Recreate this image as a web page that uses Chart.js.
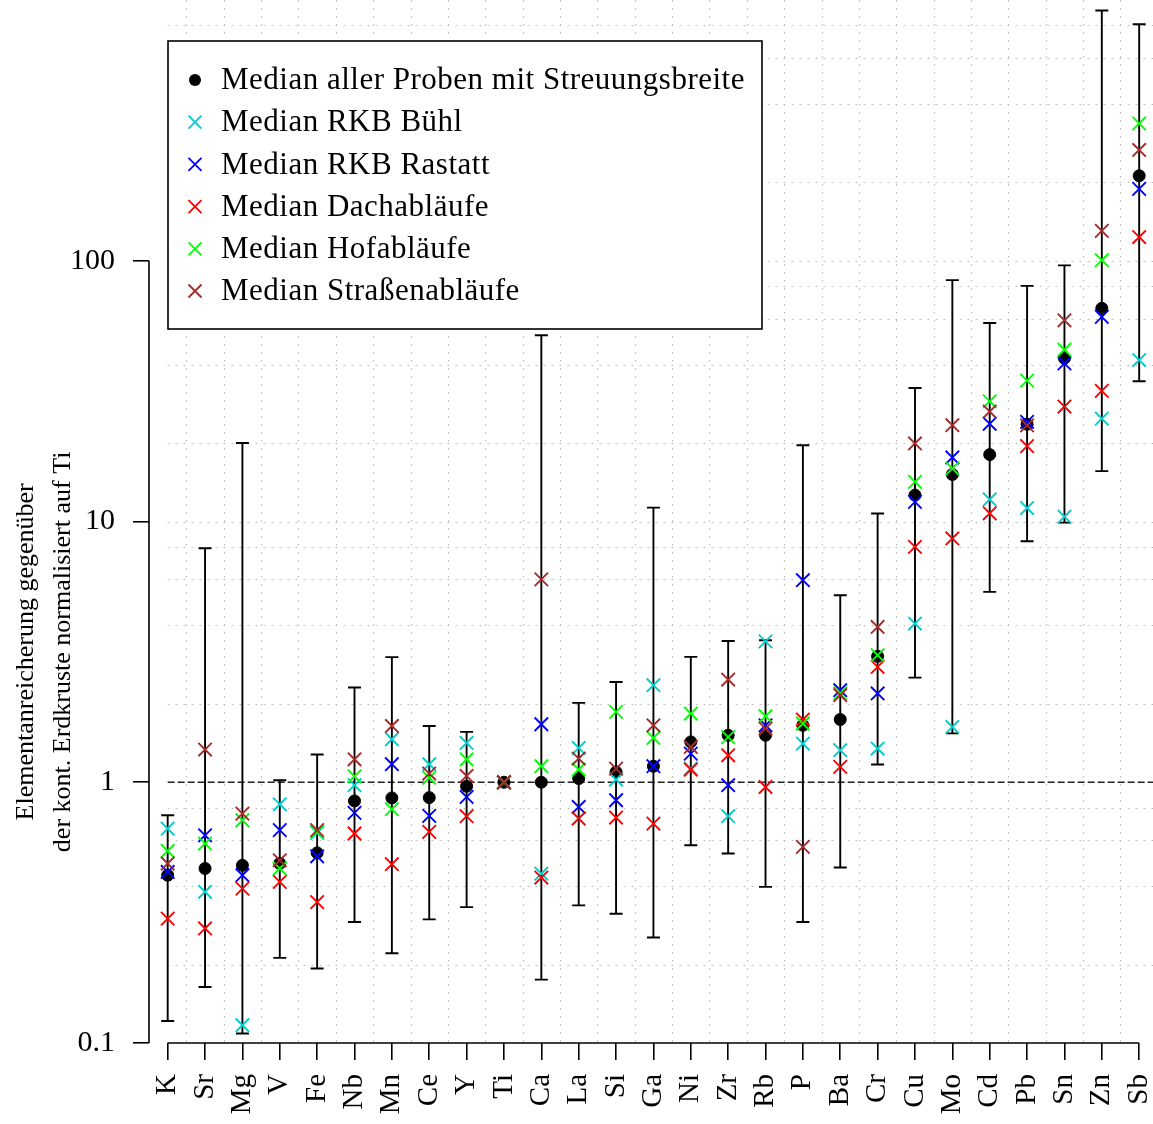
<!DOCTYPE html>
<html><head><meta charset="utf-8">
<script src="https://cdn.jsdelivr.net/npm/chart.js@4.4.1/dist/chart.umd.min.js"></script>
<style>html,body{margin:0;padding:0;background:#fff;}canvas{display:block;}</style>
</head><body>
<canvas id="c" width="1153" height="1124"></canvas>
<script>
// ---------------- data ----------------
const categories = ['K','Sr','Mg','V','Fe','Nb','Mn','Ce','Y','Ti','Ca','La','Si','Ga','Ni','Zr','Rb','P','Ba','Cr','Cu','Mo','Cd','Pb','Sn','Zn','Sb'];
const medianAll = [0.44,0.467,0.48,0.488,0.536,0.848,0.871,0.873,0.965,1.0,1.0,1.033,1.095,1.152,1.428,1.514,1.514,1.654,1.74,3.04,12.62,15.15,18.05,23.6,42.3,65.7,211.8];
const errLow  = [0.1215,0.164,0.1087,0.212,0.193,0.291,0.221,0.298,0.332,1.0,0.175,0.337,0.313,0.254,0.573,0.533,0.397,0.291,0.471,1.17,2.52,1.54,5.37,8.4,9.9,15.6,34.5];
const errHigh = [0.747,7.9,20.0,1.018,1.277,2.31,3.02,1.644,1.56,1.0,51.8,2.015,2.425,11.3,3.025,3.483,3.505,19.6,5.216,10.73,32.5,84.3,57.7,80.1,96.0,912,807.6];
const rkbBuehl   = [0.664,0.380,0.117,0.823,0.64,0.974,1.462,1.173,1.415,1.0,0.446,1.354,1.024,2.356,1.128,0.741,3.47,1.407,1.327,1.347,4.06,1.63,12.15,11.26,10.43,24.8,41.6];
const rkbRastatt = [0.453,0.626,0.440,0.655,0.520,0.763,1.173,0.743,0.878,1.0,1.669,0.804,0.853,1.152,1.288,0.974,1.654,5.955,2.254,2.19,11.89,17.6,23.7,24.1,40.4,60.9,188.7];
const dachablaeufe = [0.300,0.275,0.391,0.415,0.347,0.636,0.485,0.645,0.741,1.0,0.431,0.726,0.732,0.694,1.119,1.269,0.959,1.74,1.145,2.77,7.99,8.61,10.75,19.46,27.6,31.7,123.3];
const hofablaeufe  = [0.545,0.582,0.715,0.467,0.645,1.054,0.788,1.04,1.225,1.0,1.152,1.119,1.861,1.479,1.834,1.49,1.792,1.68,2.19,3.07,14.19,15.97,28.9,34.7,45.6,100.5,336.3];
const strassenablaeufe = [0.488,1.335,0.758,0.502,0.655,1.225,1.644,1.08,1.057,1.0,6.0,1.233,1.128,1.654,1.366,2.477,1.606,0.565,2.157,3.94,19.92,23.4,26.4,23.35,59.1,130.2,266];
const yTickValues = [0.1, 1, 10, 100];
const yTickLabels = ['0.1', '1', '10', '100'];
const yTitleLines = ['Elementanreicherung gegenüber', 'der kont. Erdkruste normalisiert auf Ti'];
const seriesLabels = ['Median aller Proben mit Streuungsbreite','Median RKB Bühl','Median RKB Rastatt','Median Dachabläufe','Median Hofabläufe','Median Straßenabläufe'];

// ---------------- chart ----------------
const FONT = '"Liberation Serif", "Times New Roman", serif';
const pts = arr => arr.map((v, i) => ({x: i + 1, y: v}));

function crossSet(label, data, color, order) {
  return {
    label, data: pts(data), order,
    pointStyle: 'crossRot', pointRadius: 9.5, pointHoverRadius: 9.5,
    pointBorderWidth: 1.9, pointBorderColor: color, pointBackgroundColor: color,
    borderColor: color, backgroundColor: color, showLine: false
  };
}

const datasets = [
  { label: seriesLabels[0], data: pts(medianAll), order: 6,
    pointStyle: 'circle', pointRadius: 6, pointHoverRadius: 6, pointBorderWidth: 1,
    pointBorderColor: '#000', pointBackgroundColor: '#000', borderColor: '#000', backgroundColor: '#000', showLine: false },
  crossSet(seriesLabels[1], rkbBuehl, '#00CDCD', 5),
  crossSet(seriesLabels[2], rkbRastatt, '#0000FF', 4),
  crossSet(seriesLabels[3], dachablaeufe, '#FF0000', 3),
  crossSet(seriesLabels[4], hofablaeufe, '#00FF00', 2),
  crossSet(seriesLabels[5], strassenablaeufe, '#A52A2A', 1)
];

const backgroundPlugin = {
  id: 'bg',
  beforeDatasetsDraw(chart) {
    const {ctx, chartArea: ca, scales: {x, y}} = chart;
    ctx.save();
    // dotted grid
    ctx.strokeStyle = '#b4b4b4';
    ctx.lineWidth = 1;
    ctx.setLineDash([1.5, 6.5]);
    const x0 = x.getPixelForValue(1);
    for (let e = -1; e <= 2; e++) {
      for (const m of [1, 2, 4, 6, 8]) {
        const v = m * Math.pow(10, e);
        if (v === 1 || v === 0.1) continue;
        const py = Math.round(y.getPixelForValue(v)) + 0.5;
        ctx.beginPath(); ctx.moveTo(x0, py); ctx.lineTo(ca.right, py); ctx.stroke();
      }
    }
    for (let i = 1; i < categories.length; i++) {
      const px = Math.round(x.getPixelForValue(i + 0.5)) + 0.5;
      ctx.beginPath(); ctx.moveTo(px, ca.top); ctx.lineTo(px, ca.bottom); ctx.stroke();
    }
    // dashed reference line at 1
    ctx.setLineDash([7, 3]);
    ctx.strokeStyle = '#222';
    ctx.lineWidth = 1.3;
    const p1 = y.getPixelForValue(1);
    ctx.beginPath(); ctx.moveTo(x0, p1); ctx.lineTo(ca.right, p1); ctx.stroke();
    // axis lines (spanning tick range only)
    ctx.setLineDash([]);
    ctx.strokeStyle = '#000';
    ctx.lineWidth = 1.6;
    ctx.beginPath();
    ctx.moveTo(ca.left, y.getPixelForValue(yTickValues[yTickValues.length - 1]));
    ctx.lineTo(ca.left, y.getPixelForValue(yTickValues[0]));
    ctx.stroke();
    ctx.beginPath();
    ctx.moveTo(x.getPixelForValue(1), ca.bottom);
    ctx.lineTo(x.getPixelForValue(categories.length), ca.bottom);
    ctx.stroke();
    // error bars
    ctx.lineWidth = 1.9;
    const cap = 6.5;
    for (let i = 0; i < categories.length; i++) {
      if (errLow[i] === errHigh[i]) continue;
      const px = x.getPixelForValue(i + 1);
      const pl = y.getPixelForValue(errLow[i]);
      const ph = y.getPixelForValue(errHigh[i]);
      ctx.beginPath();
      ctx.moveTo(px, ph); ctx.lineTo(px, pl);
      ctx.moveTo(px - cap, ph); ctx.lineTo(px + cap, ph);
      ctx.moveTo(px - cap, pl); ctx.lineTo(px + cap, pl);
      ctx.stroke();
    }
    // y axis title
    ctx.fillStyle = '#000';
    ctx.font = '26px ' + FONT;
    ctx.textAlign = 'center';
    ctx.textBaseline = 'middle';
    const cy = (y.getPixelForValue(yTickValues[0]) + y.getPixelForValue(yTickValues[yTickValues.length - 1])) / 2;
    ctx.translate(26, cy);
    ctx.rotate(-Math.PI / 2);
    yTitleLines.forEach((t, k) => ctx.fillText(t, 0, k * 37));
    ctx.restore();
  },
  afterDraw(chart) {
    const {ctx} = chart;
    ctx.save();
    const bx = 168, by = 41, bw = 594, bh = 288;
    ctx.fillStyle = '#fff';
    ctx.fillRect(bx, by, bw, bh);
    ctx.strokeStyle = '#000';
    ctx.lineWidth = 1.6;
    ctx.strokeRect(bx, by, bw, bh);
    ctx.font = '31px ' + FONT;
    if ('letterSpacing' in ctx) ctx.letterSpacing = '0.5px';
    ctx.textAlign = 'left';
    ctx.textBaseline = 'middle';
    chart.data.datasets.forEach((ds, i) => {
      const cy = 80 + i * 42.2;
      const sx = 195;
      if (i === 0) {
        ctx.fillStyle = '#000';
        ctx.beginPath(); ctx.arc(sx, cy, 6, 0, Math.PI * 2); ctx.fill();
      } else {
        ctx.strokeStyle = ds.pointBorderColor;
        ctx.lineWidth = 1.8;
        const h = 6.5;
        ctx.beginPath();
        ctx.moveTo(sx - h, cy - h); ctx.lineTo(sx + h, cy + h);
        ctx.moveTo(sx - h, cy + h); ctx.lineTo(sx + h, cy - h);
        ctx.stroke();
      }
      ctx.fillStyle = '#000';
      ctx.fillText(ds.label, 221, cy + 1);
    });
    ctx.restore();
  }
};

new Chart(document.getElementById('c'), {
  type: 'scatter',
  data: { datasets },
  options: {
    responsive: false,
    animation: false,
    devicePixelRatio: 1,
    layout: { padding: 0, autoPadding: false },
    plugins: { legend: { display: false }, tooltip: { enabled: false } },
    scales: {
      x: {
        type: 'linear', position: 'bottom', min: 0.5, max: 27.37,
        afterBuildTicks: s => { s.ticks = categories.map((c, i) => ({value: i + 1})); },
        afterFit: s => { s.height = 81; s.paddingLeft = 0; s.paddingRight = 0; },
        ticks: {
          autoSkip: false, minRotation: 90, maxRotation: 90, padding: 14,
          color: '#000', font: { family: FONT, size: 29 },
          callback: v => categories[Math.round(v) - 1] || ''
        },
        grid: { drawOnChartArea: false, drawTicks: true, tickLength: 17, color: '#000', lineWidth: 1.6 },
        border: { display: false }
      },
      y: {
        type: 'logarithmic', position: 'left', min: 0.1, max: 1000,
        afterBuildTicks: s => { s.ticks = yTickValues.map(v => ({value: v})); },
        afterFit: s => { s.width = 149; s.paddingTop = 0; s.paddingBottom = 0; },
        ticks: {
          padding: 18, color: '#000', font: { family: FONT, size: 30 },
          callback: v => { const k = yTickValues.indexOf(v); return k >= 0 ? yTickLabels[k] : ''; }
        },
        grid: { drawOnChartArea: false, drawTicks: true, tickLength: 16, color: '#000', lineWidth: 1.6 },
        border: { display: false }
      }
    }
  },
  plugins: [backgroundPlugin]
});
</script>
</body></html>
